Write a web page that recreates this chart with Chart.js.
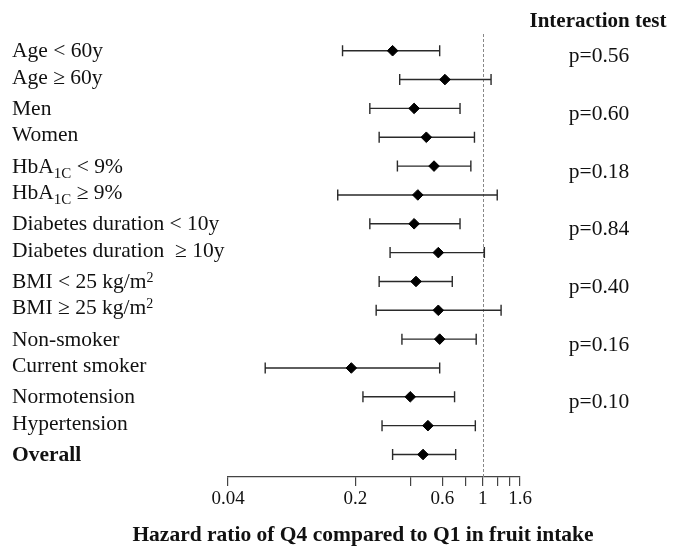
<!DOCTYPE html>
<html>
<head>
<meta charset="utf-8">
<script src="https://cdn.jsdelivr.net/npm/chart.js@4"></script>
<style>
  html, body { margin: 0; padding: 0; background: #fff; }
  canvas { display: block; }
</style>
</head>
<body>
<canvas id="c" width="673" height="547"></canvas>
<script>
// ---- data ----
const categories = [
  'Age < 60y', 'Age ≥ 60y',
  'Men', 'Women',
  'HbA_{1C} < 9%', 'HbA_{1C} ≥ 9%',
  'Diabetes duration < 10y', 'Diabetes duration  ≥ 10y',
  'BMI < 25 kg/m^{2}', 'BMI ≥ 25 kg/m^{2}',
  'Non-smoker', 'Current smoker',
  'Normotension', 'Hypertension',
  '*Overall'
];
const hazardRatio = [0.32, 0.62, 0.42, 0.49, 0.54, 0.44, 0.42, 0.57, 0.43, 0.57, 0.58, 0.19, 0.40, 0.50, 0.47];
const ciLower     = [0.17, 0.35, 0.24, 0.27, 0.34, 0.16, 0.24, 0.31, 0.27, 0.26, 0.36, 0.064, 0.22, 0.28, 0.32];
const ciUpper     = [0.58, 1.11, 0.75, 0.90, 0.86, 1.20, 0.75, 1.02, 0.68, 1.26, 0.92, 0.58, 0.70, 0.91, 0.71];
const pValues = ['p=0.56', 'p=0.60', 'p=0.18', 'p=0.84', 'p=0.40', 'p=0.16', 'p=0.10'];
const tickValues = [0.04, 0.2, 0.4, 0.6, 0.8, 1, 1.2, 1.4, 1.6];
const tickLabels = ['0.04', '0.2', '', '0.6', '', '1', '', '', '1.6'];
const referenceValue = 1;
const xTitle = 'Hazard ratio of Q4 compared to Q1 in fruit intake';
const rightHeader = 'Interaction test';

const SERIF = "'Liberation Serif', 'Times New Roman', serif";

function drawRich(ctx, text, x, y, size) {
  // supports _{sub} and ^{sup}; leading * = bold
  let bold = false;
  if (text.startsWith('*')) { bold = true; text = text.slice(1); }
  const re = /(_\{[^}]*\}|\^\{[^}]*\})/;
  const parts = text.split(re).filter(s => s.length);
  let cx = x;
  ctx.textAlign = 'left';
  ctx.textBaseline = 'alphabetic';
  for (const p of parts) {
    let str = p, fs = size, dy = 0;
    if (p.startsWith('_{')) { str = p.slice(2, -1); fs = 15; dy = 5; }
    else if (p.startsWith('^{')) { str = p.slice(2, -1); fs = 14; dy = -6; }
    ctx.font = (bold ? 'bold ' : '') + fs + 'px ' + SERIF;
    ctx.fillText(str, cx, y + dy);
    cx += ctx.measureText(str).width;
  }
}

const forestPlugin = {
  id: 'forest',
  beforeDatasetsDraw(chart) {
    const ctx = chart.ctx;
    const xs = chart.scales.x, ys = chart.scales.y;
    const area = chart.chartArea;
    // reference line
    ctx.save();
    ctx.strokeStyle = '#888';
    ctx.lineWidth = 1;
    ctx.setLineDash([3, 2]);
    const rx = Math.round(xs.getPixelForValue(referenceValue)) + 0.5;
    ctx.beginPath();
    ctx.moveTo(rx, area.top);
    ctx.lineTo(rx, area.bottom);
    ctx.stroke();
    ctx.restore();
    // CI bars
    ctx.save();
    ctx.strokeStyle = '#2a2a2a';
    ctx.lineWidth = 1.4;
    for (let i = 0; i < hazardRatio.length; i++) {
      const y = ys.getPixelForValue(i);
      const x1 = xs.getPixelForValue(ciLower[i]);
      const x2 = xs.getPixelForValue(ciUpper[i]);
      ctx.beginPath();
      ctx.moveTo(x1, y); ctx.lineTo(x2, y);
      ctx.moveTo(x1, y - 5.5); ctx.lineTo(x1, y + 5.5);
      ctx.moveTo(x2, y - 5.5); ctx.lineTo(x2, y + 5.5);
      ctx.stroke();
    }
    ctx.restore();
  },
  afterDraw(chart) {
    const ctx = chart.ctx;
    const ys = chart.scales.y;
    ctx.save();
    ctx.fillStyle = '#111';
    // row labels
    categories.forEach((lab, i) => {
      const y = ys.getPixelForValue(i) + (i % 2 === 0 ? 6.5 : 4);
      drawRich(ctx, lab, 12, y, 21.5);
    });
    // p-values
    ctx.font = '21.5px ' + SERIF;
    ctx.textAlign = 'center';
    ctx.textBaseline = 'alphabetic';
    pValues.forEach((p, k) => {
      const y = ys.getPixelForValue(2 * k) + 11.5;
      ctx.fillText(p, 599, y);
    });
    // header
    ctx.font = 'bold 21px ' + SERIF;
    ctx.fillText(rightHeader, 598, 27);
    // x title
    ctx.font = 'bold 21.5px ' + SERIF;
    ctx.fillText(xTitle, 363, 541);
    ctx.restore();
  }
};

new Chart(document.getElementById('c'), {
  type: 'scatter',
  data: {
    datasets: [{
      data: hazardRatio.map((v, i) => ({ x: v, y: i })),
      pointStyle: 'rectRot',
      pointRadius: 5.3,
      pointHoverRadius: 5.3,
      backgroundColor: '#000',
      borderColor: '#000',
      borderWidth: 1
    }]
  },
  options: {
    responsive: false,
    animation: false,
    events: [],
    layout: { padding: { left: 228, right: 153, top: 34, bottom: 0 } },
    plugins: { legend: { display: false }, tooltip: { enabled: false } },
    scales: {
      x: {
        type: 'logarithmic',
        min: 0.04,
        max: 1.6,
        afterBuildTicks(scale) { scale.ticks = tickValues.map(v => ({ value: v })); },
        afterFit(scale) { scale.height = 70; },
        border: { display: true, color: '#444', width: 1.2 },
        grid: { drawOnChartArea: false, drawTicks: true, tickLength: 9, color: '#444', lineWidth: 1.2 },
        ticks: {
          autoSkip: false,
          maxRotation: 0,
          padding: 2,
          color: '#111',
          font: { family: SERIF, size: 19 },
          callback: (v, i) => tickLabels[i]
        }
      },
      y: {
        type: 'linear',
        reverse: true,
        min: -0.58,
        max: 14.78,
        display: false
      }
    }
  },
  plugins: [forestPlugin]
});
</script>
</body>
</html>
